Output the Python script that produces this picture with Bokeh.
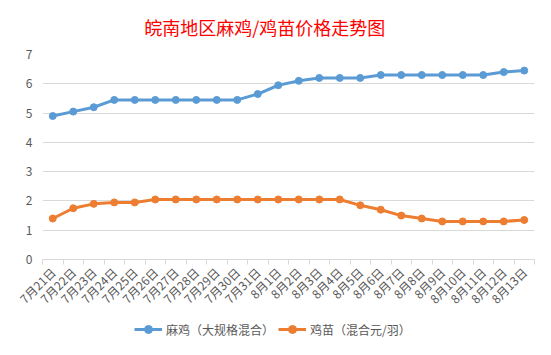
import math
from bokeh.plotting import figure
from bokeh.layouts import column
from bokeh.models import FixedTicker, Legend, LegendItem, Range1d, Label
from bokeh.embed import file_html
from bokeh.resources import INLINE

dates = ["7月21日", "7月22日", "7月23日", "7月24日", "7月25日", "7月26日", "7月27日",
         "7月28日", "7月29日", "7月30日", "7月31日", "8月1日", "8月2日", "8月3日",
         "8月4日", "8月5日", "8月6日", "8月7日", "8月8日", "8月9日", "8月10日",
         "8月11日", "8月12日", "8月13日"]
maji = [4.9, 5.05, 5.2, 5.45, 5.45, 5.45, 5.45, 5.45, 5.45, 5.45, 5.65, 5.95,
        6.1, 6.2, 6.2, 6.2, 6.3, 6.3, 6.3, 6.3, 6.3, 6.3, 6.4, 6.45]
jimiao = [1.4, 1.75, 1.9, 1.95, 1.95, 2.05, 2.05, 2.05, 2.05, 2.05, 2.05, 2.05,
          2.05, 2.05, 2.05, 1.85, 1.7, 1.5, 1.4, 1.3, 1.3, 1.3, 1.3, 1.35]
yticks = [0, 1, 2, 3, 4, 5, 6, 7]
names = ["麻鸡（大规格混合）", "鸡苗（混合元/羽）"]
colors = ["#5b9bd5", "#ed7d31"]
title_text = "皖南地区麻鸡/鸡苗价格走势图"

FONT = "Noto Sans CJK SC"
xs = list(range(len(dates)))


def strip(height):
    f = figure(width=551, height=height, output_backend="svg", toolbar_location=None,
               x_range=Range1d(0, 551), y_range=Range1d(0, height),
               x_axis_location=None, y_axis_location=None, title=None,
               min_border_left=0, min_border_right=0,
               min_border_top=0, min_border_bottom=0)
    f.grid.grid_line_color = None
    f.outline_line_color = None
    f.border_fill_color = "white"
    return f


# title strip
tp = strip(40)
tp.add_layout(Label(x=114, y=14, text=title_text, text_color="#ff0000",
                    text_font=FONT, text_font_size="18px",
                    text_align="left", text_baseline="middle"))

p = figure(width=551, height=275, output_backend="svg", toolbar_location=None,
           x_range=Range1d(-0.5, len(dates) - 0.5), y_range=Range1d(0, 7),
           min_border_left=42, min_border_right=17, min_border_top=14,
           min_border_bottom=55)
p.outline_line_color = None
p.background_fill_color = "white"
p.border_fill_color = "white"

p.xaxis.ticker = FixedTicker(ticks=xs, minor_ticks=[i - 0.5 for i in range(len(dates) + 1)])
p.xaxis.major_label_overrides = {i: d for i, d in enumerate(dates)}
p.xaxis.major_label_orientation = math.pi / 4
p.xaxis.major_tick_line_color = None
p.xaxis.minor_tick_line_color = "#d9d9d9"
p.xaxis.minor_tick_in = 0
p.xaxis.minor_tick_out = 5
p.xaxis.axis_line_color = "#d9d9d9"
p.xaxis.major_label_text_font = FONT
p.xaxis.major_label_text_font_size = "12px"
p.xaxis.major_label_text_color = "#595959"
p.xaxis.major_label_standoff = 4

p.yaxis.ticker = FixedTicker(ticks=yticks)
p.yaxis.axis_line_color = None
p.yaxis.major_tick_line_color = None
p.yaxis.minor_tick_line_color = None
p.yaxis.major_label_text_font = FONT
p.yaxis.major_label_text_font_size = "12px"
p.yaxis.major_label_text_color = "#595959"
p.yaxis.major_label_standoff = 4

p.xgrid.grid_line_color = None
p.ygrid.grid_line_color = "#d9d9d9"

for vals, c in zip([maji, jimiao], colors):
    p.line(xs, vals, line_width=3, color=c)
    p.scatter(xs, vals, size=7, color=c)

# legend strip below the chart
lg = strip(40)
items = []
for name, c in zip(names, colors):
    l = lg.line([-10, -9], [-10, -10], line_width=3, color=c)
    s = lg.scatter([-10], [-10], size=7, color=c)
    items.append(LegendItem(label=name, renderers=[l, s]))
legend = Legend(items=items, orientation="horizontal", location=(92, 16),
                border_line_color=None, background_fill_alpha=0,
                label_text_font=FONT, label_text_font_size="12px",
                label_text_color="#595959", glyph_width=28, spacing=4,
                label_standoff=4, padding=2, margin=0)
lg.add_layout(legend, "center")

layout = column(tp, p, lg, spacing=0)
open("out.html", "w").write(file_html(layout, INLINE))
